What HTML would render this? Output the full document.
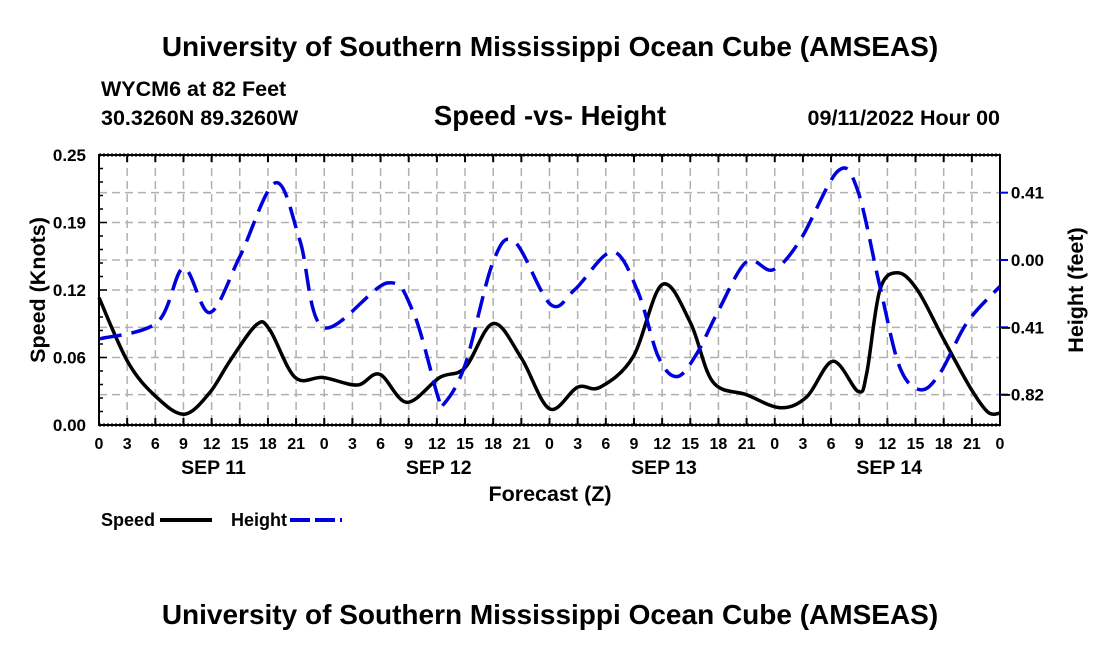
<!DOCTYPE html>
<html><head><meta charset="utf-8"><style>
body{margin:0;background:#fff}
svg{display:block;font-family:"Liberation Sans",Arial,sans-serif;font-weight:bold}
</style></head><body>
<svg id="c" width="1100" height="650" viewBox="0 0 1100 650">
<text x="550" y="56" text-anchor="middle" font-size="28">University of Southern Mississippi Ocean Cube (AMSEAS)</text>
<text x="101" y="96" font-size="21.5">WYCM6 at 82 Feet</text>
<text x="101" y="125" font-size="21.5">30.3260N  89.3260W</text>
<text x="550" y="125" text-anchor="middle" font-size="27.5">Speed -vs- Height</text>
<text x="1000" y="125" text-anchor="end" font-size="21.5">09/11/2022 Hour 00</text>
<g id="grid"></g><g id="axes"></g><g id="series"></g>
<text x="550" y="501" text-anchor="middle" font-size="21.5">Forecast (Z)</text>
<text transform="translate(45,290) rotate(-90)" text-anchor="middle" font-size="21.5">Speed (Knots)</text>
<text transform="translate(1083,290) rotate(-90)" text-anchor="middle" font-size="21.5">Height (feet)</text>
<g><text x="101" y="526" font-size="18">Speed</text><line x1="160" y1="520" x2="212" y2="520" stroke="#000" stroke-width="4"/></g>
<g><text x="231" y="526" font-size="18">Height</text><line x1="290" y1="520" x2="342" y2="520" stroke="#0000dd" stroke-width="4" stroke-dasharray="20,5"/></g>
<text x="550" y="624" text-anchor="middle" font-size="28">University of Southern Mississippi Ocean Cube (AMSEAS)</text>
</svg>
<script>
const speedHours=[0,3.1,6.1,9.1,11.8,14,16.8,18.2,20.9,23.9,27.5,29.9,32.8,36.3,39,42,45,48,51,53.4,56.9,60,63,65.4,69,72.6,75.4,78.2,80.9,81.8,83.2,85.1,87.2,89.9,92.8,94.7,96];
const speedValues=[0.118,0.058,0.026,0.010,0.030,0.060,0.093,0.088,0.044,0.044,0.037,0.047,0.021,0.044,0.053,0.094,0.062,0.015,0.035,0.035,0.063,0.130,0.095,0.040,0.028,0.016,0.026,0.059,0.031,0.048,0.125,0.141,0.125,0.081,0.035,0.012,0.011];
const heightHours=[0.1,6.2,9.0,11.8,15.0,18.8,21.4,23.9,30.7,33.5,36.1,36.7,39,42,44.3,48.1,50.7,54.7,57.4,59.6,61.6,63.7,65.9,69,71.8,74.7,78.7,80.8,83.2,85.3,87.5,89.6,92.5,96];
const heightValues=[-0.48,-0.38,-0.05,-0.32,0.02,0.47,0.12,-0.41,-0.14,-0.32,-0.83,-0.88,-0.64,-0.01,0.11,-0.27,-0.18,0.05,-0.19,-0.59,-0.71,-0.57,-0.32,-0.01,-0.06,0.12,0.54,0.43,-0.16,-0.65,-0.79,-0.69,-0.38,-0.16];
const leftTickVals=[0,0.0625,0.125,0.1875,0.25];
const leftTickLabels=["0.00","0.06","0.12","0.19","0.25"];
const rightTickVals=[0.41,0,-0.41,-0.82];
const rightTickLabels=["0.41","0.00","\u22120.41","\u22120.82"];
const xTickLabels=["0","3","6","9","12","15","18","21"];
const dayLabels=["SEP 11","SEP 12","SEP 13","SEP 14"];

const X0=99,X1=1000,Y0=425,Y1=155;
const xs=h=>X0+h*(X1-X0)/96;
const ys=v=>Y0-v*(Y0-Y1)/0.25;
const yh=v=>260-v*164.2;
const NS="http://www.w3.org/2000/svg";
function mk(tag,attrs,parent){const e=document.createElementNS(NS,tag);for(const k in attrs)e.setAttribute(k,attrs[k]);parent.appendChild(e);return e;}
const grid=document.getElementById('grid'),axes=document.getElementById('axes'),series=document.getElementById('series');
for(let h=3;h<96;h+=3){const l=mk('line',{x1:xs(h),x2:xs(h),y1:Y1,y2:Y0,stroke:'#b0b0b0','stroke-width':1.5,'stroke-dasharray':'8,5'},grid);

}
leftTickVals.slice(1,-1).forEach(v=>{const l=mk('line',{x1:X0,x2:X1,y1:ys(v),y2:ys(v),stroke:'#b0b0b0','stroke-width':1.5,'stroke-dasharray':'8,5'},grid);

});
rightTickVals.forEach(v=>{const l=mk('line',{x1:X0,x2:X1,y1:yh(v),y2:yh(v),stroke:'#b0b0b0','stroke-width':1.5,'stroke-dasharray':'8,5'},grid);

});
mk('rect',{x:X0,y:Y1,width:X1-X0,height:Y0-Y1,fill:'none',stroke:'#000','stroke-width':2},axes);
mk('line',{x1:X0,x2:X1,y1:Y1,y2:Y1,stroke:'#000','stroke-width':3,'stroke-dasharray':'2,2'},axes);
mk('line',{x1:X0,x2:X1,y1:Y0,y2:Y0,stroke:'#000','stroke-width':3,'stroke-dasharray':'2,2'},axes);
for(let h=0;h<=96;h+=3){mk('line',{x1:xs(h),x2:xs(h),y1:Y0,y2:Y0-7,stroke:'#000','stroke-width':2},axes);mk('line',{x1:xs(h),x2:xs(h),y1:Y1,y2:Y1+7,stroke:'#000','stroke-width':2},axes);
const t=mk('text',{x:xs(h),y:449,'text-anchor':'middle','font-size':16},axes);t.textContent=xTickLabels[(h/3)%8];

}
dayLabels.forEach((d,i)=>{const t=mk('text',{x:xs(9+24*i)+30,y:474,'text-anchor':'middle','font-size':19.5},axes);t.textContent=d;

});
for(let v=0;v<=0.25001;v+=0.0125){mk('line',{x1:X0,x2:X0+(Math.abs(v/0.0625-Math.round(v/0.0625))<1e-6?8:4),y1:ys(v),y2:ys(v),stroke:'#000','stroke-width':1.5},axes);}
leftTickVals.forEach((v,i)=>{const t=mk('text',{x:86,y:ys(v)+6,'text-anchor':'end','font-size':17},axes);t.textContent=leftTickLabels[i];

});
rightTickVals.forEach((v,i)=>{mk('line',{x1:X1,x2:X1+8,y1:yh(v),y2:yh(v),stroke:'#0000dd','stroke-width':2},axes);
const t=mk('text',{x:1044,y:yh(v)+6,'text-anchor':'end','font-size':17},axes);t.textContent=rightTickLabels[i];

});
function smooth(pts){let d=`M${pts[0][0]},${pts[0][1]}`;for(let i=0;i<pts.length-1;i++){const p0=pts[Math.max(0,i-1)],p1=pts[i],p2=pts[i+1],p3=pts[Math.min(pts.length-1,i+2)];
d+=`C${p1[0]+(p2[0]-p0[0])/6},${p1[1]+(p2[1]-p0[1])/6} ${p2[0]-(p3[0]-p1[0])/6},${p2[1]-(p3[1]-p1[1])/6} ${p2[0]},${p2[1]}`;}return d;}
const sp=mk('path',{d:smooth(speedHours.map((h,i)=>[xs(h),ys(speedValues[i])])),fill:'none',stroke:'#000','stroke-width':3.5},series);


const hp=mk('path',{d:smooth(heightHours.map((h,i)=>[xs(h),yh(heightValues[i])])),fill:'none',stroke:'#0000dd','stroke-width':3.5,'stroke-dasharray':'22,10'},series);


</script>
</body></html>
